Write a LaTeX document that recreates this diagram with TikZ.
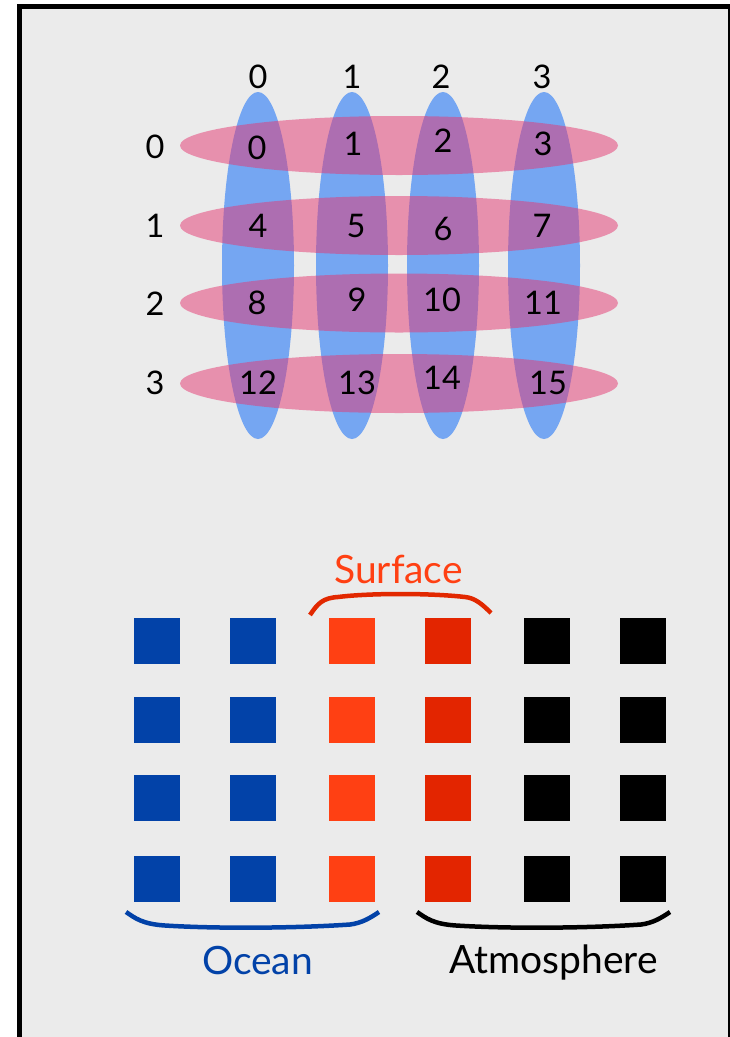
\documentclass[tikz,border=0pt]{standalone}
\usepackage{fontspec}
\setmainfont{Lato}
\definecolor{bg}{RGB}{235,235,235}
\definecolor{ellblue}{RGB}{117,166,242}
\definecolor{ellpink}{RGB}{229,55,113}
\definecolor{oceanblue}{RGB}{2,66,168}
\definecolor{surforange}{RGB}{255,64,19}
\definecolor{surfred}{RGB}{227,37,0}
\definecolor{bracered}{RGB}{226,40,0}
\begin{document}
\begin{tikzpicture}[x=1pt,y=-1pt,
  num/.style={font=\fontsize{32.5}{32.5}\selectfont, inner sep=0pt},
  cell/.style={minimum size=46pt, inner sep=0pt, outer sep=0pt},
  colell/.style={fill=ellblue},
  rowell/.style={fill=ellpink, fill opacity=0.5},
  brace/.style={line width=4.5pt},
  word/.style={font=\fontsize{39}{39}\selectfont, anchor=base, inner sep=0pt}]
\useasboundingbox (0,0) rectangle (730,1037);
\clip (0,0) rectangle (730,1037);
\fill[white] (0,0) rectangle (730,1037);
\draw[line width=5pt, fill=bg] (19.5,6.8) rectangle (730,1060);

% vertical (column) ellipses
\foreach \x in {258,352,443,544}
  \fill[colell] (\x,265.5) ellipse [x radius=36pt, y radius=173.5pt];
% horizontal (row) ellipses
\foreach \y in {145.5,225.5,303,383.5}
  \fill[rowell] (399,\y) ellipse [x radius=219pt, y radius=29.5pt];

% column headers
\node[num] (c0) at (258,77) {0};
\node[num] (c1) at (352,77) {1};
\node[num] (c2) at (441,77) {2};
\node[num] (c3) at (542,77) {3};
% row headers
\node[num] (r0) at (155,147) {0};
\node[num] (r1) at (155,226) {1};
\node[num] (r2) at (155,304) {2};
\node[num] (r3) at (155,383) {3};
% cells
\node[num] (n0) at (257,148) {0};
\node[num] (n1) at (353,144) {1};
\node[num] (n2) at (443,141) {2};
\node[num] (n3) at (543,144) {3};
\node[num] (n4) at (258,226) {4};
\node[num] (n5) at (356,226) {5};
\node[num] (n6) at (443,229) {6};
\node[num] (n7) at (542,226) {7};
\node[num] (n8) at (257,303) {8};
\node[num] (n9) at (357,300) {9};
\node[num] (n10) at (442,300) {10};
\node[num] (n11) at (543,303) {11};
\node[num] (n12) at (258,383) {12};
\node[num] (n13) at (357,383) {13};
\node[num] (n14) at (442,378) {14};
\node[num] (n15) at (548,383) {15};

% squares
\foreach \r/\y in {0/641,1/720,2/798,3/879}{
  \node[cell, fill=oceanblue] (s\r-0) at (157,\y) {};
  \node[cell, fill=oceanblue] (s\r-1) at (253,\y) {};
  \node[cell, fill=surforange] (s\r-2) at (352,\y) {};
  \node[cell, fill=surfred] (s\r-3) at (448,\y) {};
  \node[cell, fill=black] (s\r-4) at (547,\y) {};
  \node[cell, fill=black] (s\r-5) at (643,\y) {};
}

% braces
\draw[brace, bracered] (310,615) .. controls (318,603) and (323,598) .. (338,597)
  .. controls (370,593) and (430,593) .. (465,597)
  .. controls (475,598) and (482,604) .. (491,613);
\draw[brace, oceanblue] (126,912) .. controls (135,918) and (142,924) .. (165,925.5)
  .. controls (220,929) and (300,928) .. (350,924.5)
  .. controls (362,923) and (370,918) .. (379,912);
\draw[brace, black] (417,912) .. controls (426,918) and (433,924) .. (456,925.5)
  .. controls (511,929) and (591,928) .. (641,924.5)
  .. controls (653,923) and (661,918) .. (670,912);

% labels
\node[word, text=surforange] (surface) at (398.5,583) {Surface};
\node[word, text=oceanblue] (ocean) at (257.5,974) {Ocean};
\node[word, text=black] (atmos) at (553.5,973) {Atmosphere};
\end{tikzpicture}
\end{document}
